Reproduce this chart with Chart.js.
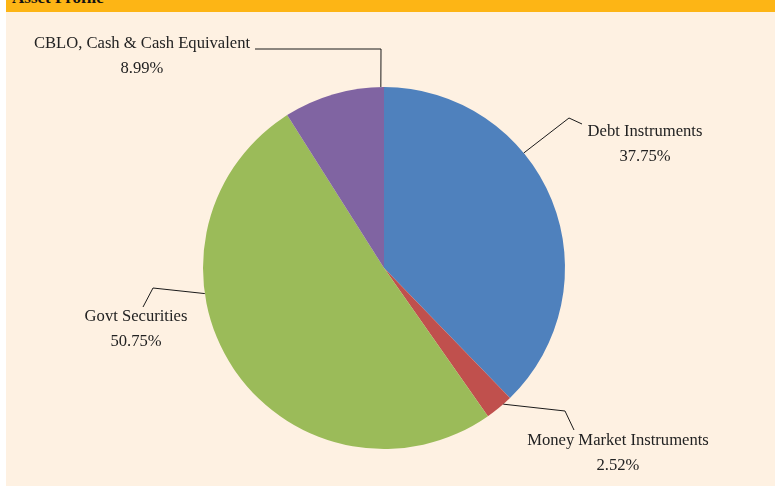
<!DOCTYPE html>
<html>
<head>
<meta charset="utf-8">
<script src="https://cdn.jsdelivr.net/npm/chart.js@4/dist/chart.umd.min.js"></script>
<style>
body{margin:0;background:#fff;width:775px;height:486px;overflow:hidden;}
#panel{position:absolute;left:6px;top:0;width:769px;height:486px;background:#fef1e2;}
#head{position:absolute;left:0;top:0;width:769px;height:12px;background:#fdb515;overflow:hidden;}
#head span{position:absolute;left:6px;top:-11px;font:bold 17px "Liberation Serif",serif;line-height:18px;color:#111;}
canvas{position:absolute;left:0;top:0;}
</style>
</head>
<body>
<div id="panel">
<div id="head"><span>Asset Profile</span></div>
<canvas id="assetChart" width="769" height="486"></canvas>
</div>
<script>

// asset profile data
var categories = ["Debt Instruments","Money Market Instruments","Govt Securities","CBLO, Cash & Cash Equivalent"];
var shares = [37.75,2.52,50.75,8.99];
var colors = ["#4f81bd","#c0504d","#9bbb59","#8064a2"];

// where each callout sits: point on slice (fraction), elbow points, text centre
var callouts = [
  {frac:0.372, pts:[[563,118],[576,124]], tx:639, ty:132},
  {frac:0.32, pts:[[559,411],[568,430]], tx:612, ty:441},
  {frac:0.64, pts:[[147,288],[137,307]], tx:130, ty:317},
  {frac:0.969, pts:[[375,49],[249,49]], tx:136, ty:44}
];

var calloutPlugin = {
  id:"callouts",
  afterDraw:function(chart){
    var ctx = chart.ctx;
    var arcs = chart.getDatasetMeta(0).data;
    ctx.save();
    ctx.strokeStyle = "#1a1a1a";
    ctx.lineWidth = 1;
    ctx.fillStyle = "#222";
    ctx.font = "16.6px 'Liberation Serif', serif";
    ctx.textAlign = "center";
    ctx.textBaseline = "middle";
    arcs.forEach(function(arc,i){
      var c = callouts[i];
      var p = arc.getProps(["x","y","startAngle","endAngle","outerRadius"],true);
      var a = p.startAngle + c.frac*(p.endAngle-p.startAngle);
      ctx.beginPath();
      ctx.moveTo(p.x + p.outerRadius*Math.cos(a), p.y + p.outerRadius*Math.sin(a));
      c.pts.forEach(function(q){ ctx.lineTo(q[0],q[1]); });
      ctx.stroke();
      ctx.fillText(categories[i], c.tx, c.ty);
      ctx.fillText(shares[i].toFixed(2)+"%", c.tx, c.ty+25);
    });
    ctx.restore();
  }
};

new Chart(document.getElementById("assetChart"),{
  type:"pie",
  data:{
    labels:categories,
    datasets:[{
      data:shares,
      backgroundColor:colors,
      borderWidth:0
    }]
  },
  options:{
    responsive:false,
    animation:false,
    layout:{padding:{top:87,bottom:37,left:197,right:210}},
    plugins:{legend:{display:false},tooltip:{enabled:false}}
  },
  plugins:[calloutPlugin]
});

</script>
</body>
</html>
